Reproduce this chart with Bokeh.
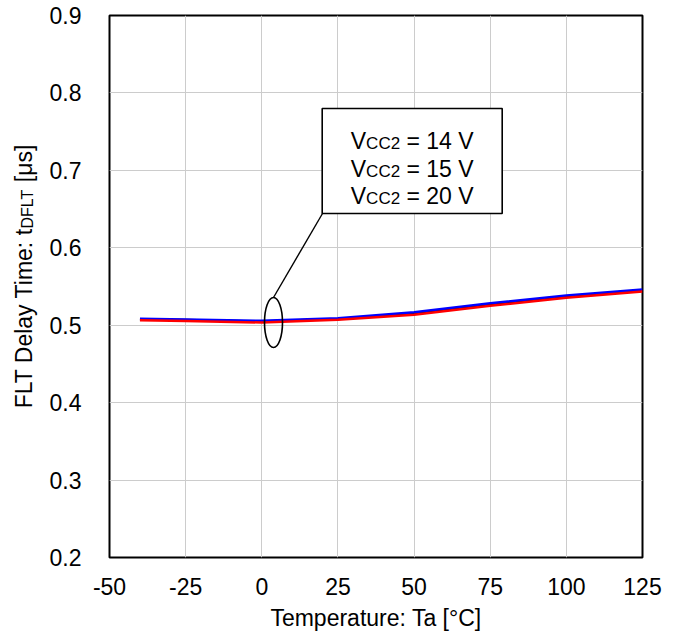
import math
from bokeh.plotting import figure
from bokeh.layouts import row
from bokeh.models import Label, BoxAnnotation, FixedTicker, Range1d
from bokeh.embed import file_html
from bokeh.resources import INLINE

# ---- data ----
temps = [-40, -25, 0, 25, 50, 75, 100, 125]
delay_vcc14 = [0.5075, 0.5066, 0.5047, 0.5080, 0.5152, 0.5267, 0.5370, 0.5450]
delay_vcc15 = [0.5083, 0.5073, 0.5057, 0.5090, 0.5168, 0.5284, 0.5384, 0.5461]
delay_vcc20 = [0.5065, 0.5055, 0.5035, 0.5070, 0.5135, 0.5250, 0.5354, 0.5435]
x_ticks = [-50, -25, 0, 25, 50, 75, 100, 125]
y_ticks = [0.2, 0.3, 0.4, 0.5, 0.6, 0.7, 0.8, 0.9]
legend_lines = ["14 V", "15 V", "20 V"]

FONT = "Liberation Sans"
FS = 23

# page geometry (pixels)
LW = 46                     # width of the y-label strip
FL, FR, FT, FB = 109.0, 642.0, 15.0, 557.0
H = 634
X0, X1, Y0, Y1 = -50, 125, 0.2, 0.9

def fx(px):
    return X0 + (px - FL) * (X1 - X0) / (FR - FL)

def fy(py):
    return Y0 + (FB - py) * (Y1 - Y0) / (FB - FT)

W = {'F': 611, 'L': 556, 'T': 611, ' ': 278, 'D': 722, 'e': 556, 'l': 222, 'a': 556,
     'y': 500, 'i': 222, 'm': 833, ':': 278, 't': 278, '[': 278, 'μ': 576, 's': 500,
     ']': 278, 'V': 667, 'C': 722, '2': 556, '=': 584, '1': 556, '4': 556, '5': 556, '0': 556}

def tw(s, size):
    return sum(W.get(c, 556) for c in s) * size / 1000.0

p = figure(frame_width=int(FR - FL), frame_height=int(FB - FT),
           min_border_left=int(FL - LW), min_border_right=30,
           min_border_top=int(FT), min_border_bottom=int(H - FB),
           x_range=Range1d(X0, X1), y_range=Range1d(Y0, Y1),
           output_backend="svg", toolbar_location=None)
p.background_fill_color = "white"
p.border_fill_color = "white"
p.outline_line_color = "black"
p.outline_line_width = 2

for ax in (p.xaxis[0], p.yaxis[0]):
    ax.axis_line_color = None
    ax.major_tick_line_color = None
    ax.minor_tick_line_color = None
    ax.major_tick_out = 0
    ax.major_tick_in = 0
    ax.major_label_text_font = FONT
    ax.major_label_text_font_size = f"{FS}px"
    ax.major_label_text_color = "black"
p.xaxis.ticker = FixedTicker(ticks=x_ticks)
p.yaxis.ticker = FixedTicker(ticks=y_ticks)
p.xaxis.major_label_overrides = {t: str(t) for t in x_ticks}
p.xaxis.major_label_standoff = 20
p.yaxis.major_label_standoff = 28
p.xaxis.axis_label = "Temperature: Ta [°C]"
p.xaxis.axis_label_text_font = FONT
p.xaxis.axis_label_text_font_size = f"{FS}px"
p.xaxis.axis_label_text_font_style = "normal"
p.xaxis.axis_label_text_color = "black"
p.xaxis.axis_label_standoff = 7

p.xgrid.ticker = FixedTicker(ticks=x_ticks)
p.ygrid.ticker = FixedTicker(ticks=y_ticks)
for g in (p.xgrid[0], p.ygrid[0]):
    g.grid_line_color = "#cccccc"
    g.grid_line_width = 1

p.line(temps, delay_vcc14, line_color="black", line_width=2.5)
p.line(temps, delay_vcc15, line_color="#0000ff", line_width=2.5)
p.line(temps, delay_vcc20, line_color="#ff0000", line_width=2.5)

# ellipse marker and connector
p.ellipse(x=[fx(273)], y=[fy(322)], width=18, height=50, width_units="screen", height_units="screen",
          fill_color=None, line_color="black", line_width=1.6)
p.segment(x0=[fx(273)], y0=[fy(297)], x1=[fx(322)], y1=[fy(213)], line_color="black", line_width=1.4)

# box
bl, br, bt, bb = 321.7, 501.7, 108, 213
p.add_layout(BoxAnnotation(left=fx(bl), right=fx(br), top=fy(bt), bottom=fy(bb),
                           fill_color="white", fill_alpha=1.0, line_color="black",
                           line_alpha=1.0, line_width=1.6))

BOX_MAIN, BOX_SUB = 23, 17
cx = (bl + br) / 2
baselines = [140.7, 168.2, 195.7]
for txt, by in zip(legend_lines, baselines):
    rest = "= " + txt
    total = tw("V", BOX_MAIN) + tw("CC2", BOX_SUB) + tw(" " + rest, BOX_MAIN)
    sx = cx - total / 2
    pieces = [("V", BOX_MAIN, 0, 0), ("CC2", BOX_SUB, 2.5, 0), (rest, BOX_MAIN, 0, tw(" ", BOX_MAIN))]
    for t, sz, dy, pre in pieces:
        sx += pre
        p.add_layout(Label(x=fx(sx), y=fy(by + dy), text=t, text_font=FONT,
                           text_font_size=f"{sz}px", text_align="left",
                           text_baseline="alphabetic", text_color="black"))
        sx += tw(t, sz)

# y-axis label strip (rotated text with subscript); its frame is aligned with p's frame
fy_lab = figure(frame_width=LW, frame_height=int(FB - FT),
                min_border_left=0, min_border_right=0,
                min_border_top=int(FT), min_border_bottom=int(H - FB),
                x_range=Range1d(0, LW), y_range=Range1d(H - FB, H - FT),
                x_axis_type=None, y_axis_type=None,
                output_backend="svg", toolbar_location=None)
fy_lab.outline_line_color = None
fy_lab.grid.visible = False
fy_lab.background_fill_color = "white"
fy_lab.border_fill_color = "white"

YL_SUB = 16
# (text, size, baseline shift, gap before, advance correction)
ypieces = [("FLT Delay Time: t", FS, 0, 0, -3), ("DFLT", YL_SUB, 4, 0, 0),
           ("[μs]", FS, 0, tw(" ", FS), 0)]
ytotal = sum(tw(t, s) + pre + corr for t, s, _, pre, corr in ypieces)
base_x = 23
py = 276 + ytotal / 2
for t, sz, dx, pre, corr in ypieces:
    py -= pre
    fy_lab.add_layout(Label(x=base_x + dx, y=H - py, text=t, text_font=FONT,
                            text_font_size=f"{sz}px", text_align="left", text_baseline="alphabetic",
                            angle=math.pi / 2, text_color="black"))
    py -= tw(t, sz) + corr

layout = row(fy_lab, p, spacing=0)
open("out.html", "w").write(file_html(layout, INLINE))
